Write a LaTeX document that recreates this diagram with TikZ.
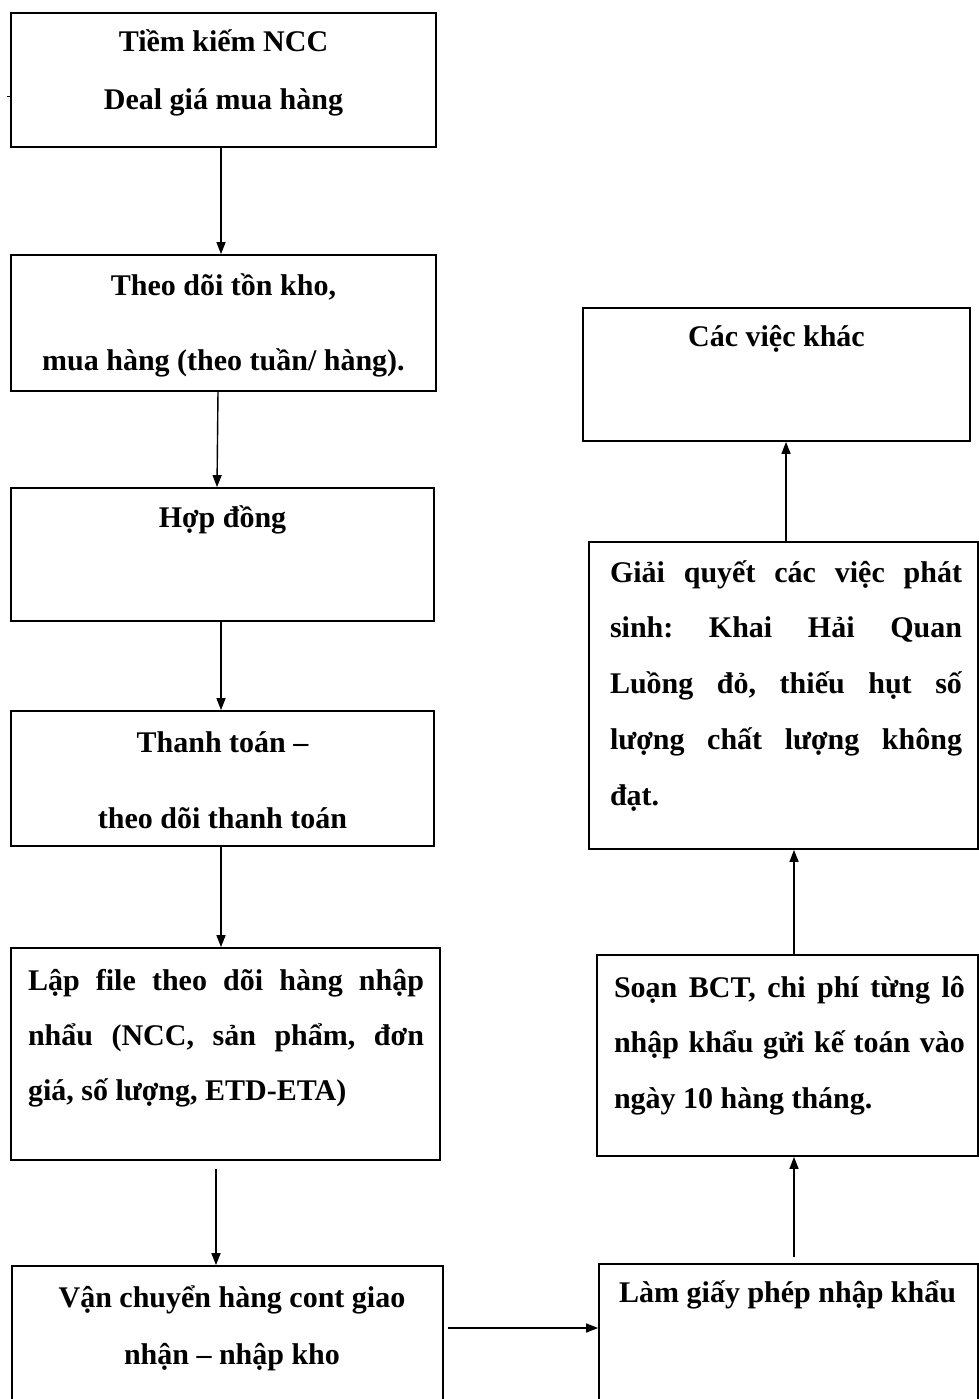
\documentclass[tikz,border=0pt]{standalone}
\usepackage{fontspec}
\setmainfont{Liberation Serif}
\usetikzlibrary{arrows.meta}
\frenchspacing
\tikzset{
  box/.style={draw, line width=1.8pt, rectangle, inner sep=0pt},
  txt/.style={inner sep=0pt, anchor=base},
  arr/.style={line width=1.4pt, -{Triangle[length=12pt,width=9pt]}}
}
\newcommand{\bx}[3]{\parbox[t]{#1}{\fontsize{30}{#2}\selectfont\bfseries\frenchspacing\parindent0pt\hyphenpenalty10000\tolerance9999\emergencystretch3em #3}}
\begin{document}
\begin{tikzpicture}[x=1pt,y=-1pt]
\useasboundingbox (0,0) rectangle (979,1399);
\clip (0,0) rectangle (979,1399);
\fill[white] (0,0) rectangle (979,1399);
% left column boxes
\node[box, minimum width=425pt, minimum height=134pt] (b1) at (223.5,80) {};
\node[box, minimum width=425pt, minimum height=136pt] (b2) at (223.5,323) {};
\node[box, minimum width=423pt, minimum height=133pt] (b3) at (222.5,554.5) {};
\node[box, minimum width=423pt, minimum height=135pt] (b4) at (222.5,778.5) {};
\node[box, minimum width=429pt, minimum height=212pt] (b5) at (225.5,1054) {};
\node[box, minimum width=431pt, minimum height=144pt] (b6) at (227.5,1338) {};
% right column boxes
\node[box, minimum width=387pt, minimum height=133pt] (r1) at (776.5,374.5) {};
\node[box, minimum width=389pt, minimum height=307pt] (r2) at (783.5,695.5) {};
\node[box, minimum width=381pt, minimum height=201pt] (r3) at (787.5,1055.5) {};
\node[box, minimum width=379pt, minimum height=146pt] (r4) at (788.5,1337) {};
% texts
\node[txt] (t1) at (223.5,52) {\bx{420pt}{58pt}{\centering Tiềm kiếm NCC\\Deal giá mua hàng\par}};
\node[txt] (t2) at (223.5,295) {\bx{420pt}{75pt}{\centering Theo dõi tồn kho,\\mua hàng (theo tuần/ hàng).\par}};
\node[txt] (t3) at (222.5,527) {\bx{420pt}{58pt}{\centering Hợp đồng\par}};
\node[txt] (t4) at (222.5,752) {\bx{420pt}{76pt}{\centering Thanh toán –\\theo dõi thanh toán\par}};
\node[txt] (t5) at (226,990) {\bx{396pt}{55pt}{Lập file theo dõi hàng nhập\linebreak nhẩu (NCC, sản phẩm, đơn\linebreak giá, số lượng, ETD-ETA)\par}};
\node[txt] (t6) at (232,1307) {\bx{420pt}{57pt}{\centering Vận chuyển hàng cont giao\\nhận – nhập kho\par}};
\node[txt] (u1) at (776.5,346) {\bx{380pt}{58pt}{\centering Các việc khác\par}};
\node[txt] (u2) at (786,582) {\bx{352pt}{55.75pt}{Giải quyết các việc phát\linebreak sinh: Khai Hải Quan\linebreak Luồng đỏ, thiếu hụt số\linebreak lượng chất lượng không\linebreak đạt.\par}};
\node[txt] (u3) at (789.5,997) {\bx{351pt}{55.5pt}{Soạn BCT, chi phí từng lô\linebreak nhập khẩu gửi kế toán vào\linebreak ngày 10 hàng tháng.\par}};
\node[txt, anchor=base west] (u4) at (619,1302) {\bfseries\fontsize{30}{36}\selectfont Làm giấy phép nhập khẩu};
% stray tick at left of first box
\draw[line width=1pt] (7,97) -- (b1.west |- 0,97);
% connectors left column
\draw[arr] ([xshift=-2.5pt]b1.south) -- ([xshift=-2.5pt]b2.north);
\draw[arr] ([xshift=-5.5pt]b2.south) -- ([xshift=-5.5pt]b3.north);
\draw[arr] ([xshift=-1.5pt]b3.south) -- ([xshift=-1.5pt]b4.north);
\coordinate (c45) at ([xshift=-1.5pt]b4.south);
\draw[arr] (c45) -- (c45 |- b5.north);
\coordinate (c56) at ([xshift=-9.5pt,yshift=-8pt]b5.south);
\draw[arr] (c56) -- (c56 |- b6.north);
% horizontal connector
\coordinate (ch) at ([xshift=4pt,yshift=10pt]b6.east);
\draw[arr] (ch) -- (ch -| r4.west);
% connectors right column
\coordinate (c43) at ([xshift=5.5pt,yshift=6pt]r4.north);
\draw[arr] (c43) -- (c43 |- r3.south);
\coordinate (c32) at ([xshift=6.5pt]r3.north);
\draw[arr] (c32) -- (c32 |- r2.south);
\coordinate (c21) at ([xshift=2.5pt]r2.north);
\draw[arr] (c21) -- (c21 |- r1.south);
\end{tikzpicture}
\end{document}
